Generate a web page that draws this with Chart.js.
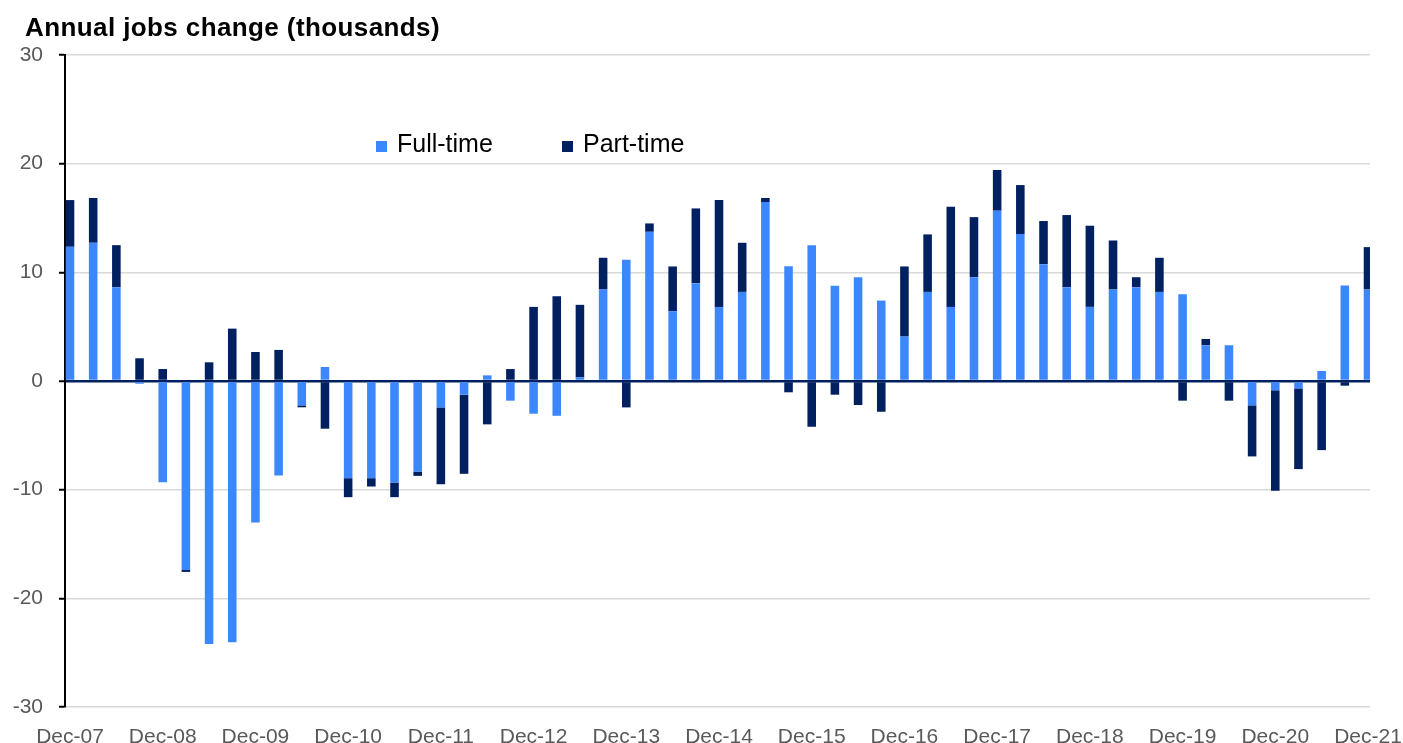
<!DOCTYPE html>
<html>
<head>
<meta charset="utf-8">
<script src="https://cdn.jsdelivr.net/npm/chart.js@4.4.1/dist/chart.umd.min.js"></script>
<style>
  html, body { margin: 0; padding: 0; background: #fff; }
  #wrap { position: relative; width: 1403px; height: 743px; overflow: hidden;
    font-family: 'Liberation Sans', Arial, sans-serif; }
  #title { position: absolute; left: 25px; top: 14px; font-size: 26px; line-height: 26px;
    font-weight: bold; letter-spacing: 0.4px; color: #000; white-space: nowrap; }
  #legend { position: absolute; left: 0; top: 0; width: 100%; pointer-events: none;
    font-size: 25px; line-height: 25px; color: #000; }
  .item { position: absolute; top: 131px; white-space: nowrap; }
  .swatch { display: inline-block; width: 11px; height: 11px; margin-right: 10px; vertical-align: baseline; }
</style>
</head>
<body>
<div id="wrap">
  <canvas id="jobsChart" width="1403" height="743"></canvas>
  <div id="title">Annual jobs change (thousands)</div>
  <div id="legend"></div>
</div>
<script>
// quarterly, Dec-07 .. Dec-21
const quarters = [
  'Dec-07', 'Mar-08', 'Jun-08', 'Sep-08',
  'Dec-08', 'Mar-09', 'Jun-09', 'Sep-09',
  'Dec-09', 'Mar-10', 'Jun-10', 'Sep-10',
  'Dec-10', 'Mar-11', 'Jun-11', 'Sep-11',
  'Dec-11', 'Mar-12', 'Jun-12', 'Sep-12',
  'Dec-12', 'Mar-13', 'Jun-13', 'Sep-13',
  'Dec-13', 'Mar-14', 'Jun-14', 'Sep-14',
  'Dec-14', 'Mar-15', 'Jun-15', 'Sep-15',
  'Dec-15', 'Mar-16', 'Jun-16', 'Sep-16',
  'Dec-16', 'Mar-17', 'Jun-17', 'Sep-17',
  'Dec-17', 'Mar-18', 'Jun-18', 'Sep-18',
  'Dec-18', 'Mar-19', 'Jun-19', 'Sep-19',
  'Dec-19', 'Mar-20', 'Jun-20', 'Sep-20',
  'Dec-20', 'Mar-21', 'Jun-21', 'Sep-21',
  'Dec-21'
];

const fullTime = [
  12.35, 12.72, 8.63, -0.25,
  -9.31, -17.39, -24.2, -24.05,
  -13.03, -8.69, -2.24, 1.29,
  -8.94, -8.94, -9.34, -8.33,
  -2.43, -1.26, 0.52, -1.81,
  -3.01, -3.2, 0.34, 8.42,
  11.15, 13.73, 6.42, 9.0,
  6.82, 8.2, 16.47, 10.57,
  12.5, 8.76, 9.55, 7.4,
  4.09, 8.2, 6.82, 9.55,
  15.67, 13.52, 10.75, 8.63,
  6.82, 8.42, 8.63, 8.2,
  7.99, 3.29, 3.29, -2.24,
  -0.86, -0.68, 0.92, 8.79,
  8.42
];

const partTime = [
  4.3, 4.12, 3.87, 2.09,
  1.1, -0.18, 1.72, 4.82,
  2.67, 2.86, -0.18, -4.39,
  -1.75, -0.77, -1.35, -0.4,
  -7.07, -7.28, -3.99, 1.1,
  6.82, 7.8, 6.67, 2.92,
  -2.43, 0.77, 4.12, 6.88,
  9.83, 4.52, 0.37, -1.04,
  -4.21, -1.26, -2.21, -2.83,
  6.45, 5.29, 9.22, 5.53,
  3.75, 4.51, 3.97, 6.64,
  7.47, 4.51, 0.92, 3.14,
  -1.81, 0.58, -1.81, -4.7,
  -9.25, -7.43, -6.36, -0.43,
  3.9
];

// labelled quarters on the x axis (every December)
const tickQuarters = [0, 4, 8, 12, 16, 20, 24, 28, 32, 36, 40, 44, 48, 52, 56];
const yTicks = [-30, -20, -10, 0, 10, 20, 30];

const FONT = "'Liberation Sans', Arial, sans-serif";
const BLUE = '#3d87fe';
const NAVY = '#002060';

const toPoints = arr => arr.map((v, i) => ({ x: i, y: v }));

const chart = new Chart(document.getElementById('jobsChart'), {
  type: 'bar',
  data: {
    datasets: [
      {
        label: 'Full-time',
        data: toPoints(fullTime),
        backgroundColor: BLUE,
        borderWidth: 0,
        categoryPercentage: 1,
        barPercentage: 0.37
      },
      {
        label: 'Part-time',
        data: toPoints(partTime),
        backgroundColor: NAVY,
        borderWidth: 0,
        categoryPercentage: 1,
        barPercentage: 0.37
      }
    ]
  },
  options: {
    responsive: false,
    animation: false,
    devicePixelRatio: 1,
    layout: {
      autoPadding: false,
      padding: { left: 0, right: 33, top: 55, bottom: 0 }
    },
    scales: {
      x: {
        type: 'linear',
        stacked: true,
        offset: false,
        min: -0.216,
        max: 56.086,
        grid: { display: false },
        border: { display: false },
        afterBuildTicks: axis => { axis.ticks = tickQuarters.map(v => ({ value: v })); },
        afterFit: axis => {
          axis.height = 36;
          // let the last label run off the edge like the original
          axis.paddingLeft = 0;
          axis.paddingRight = 0;
        },
        ticks: {
          autoSkip: false,
          maxRotation: 0,
          padding: 10,
          color: '#595959',
          font: { family: FONT, size: 21 },
          callback: v => quarters[v]
        }
      },
      y: {
        stacked: true,
        min: -30,
        max: 30,
        afterBuildTicks: axis => { axis.ticks = yTicks.map(v => ({ value: v })); },
        afterFit: axis => {
          axis.width = 65;
          axis.paddingTop = 0;
          axis.paddingBottom = 0;
        },
        border: { color: '#000', width: 2 },
        grid: {
          color: ctx => ctx.tick && ctx.tick.value === 0 ? NAVY : '#d9d9d9',
          lineWidth: ctx => ctx.tick && ctx.tick.value === 0 ? 2.5 : 1.5,
          drawTicks: true,
          tickLength: 6,
          tickColor: '#000',
          tickWidth: 2
        },
        ticks: {
          padding: 16,
          color: '#595959',
          font: { family: FONT, size: 21 }
        }
      }
    },
    plugins: {
      legend: { display: false },
      tooltip: { enabled: false },
      title: { display: false }
    }
  }
});

// legend drawn as html so it can sit inside the plot like the original
const legendLefts = [376, 562];
const legendEl = document.getElementById('legend');
chart.data.datasets.forEach((ds, i) => {
  const item = document.createElement('div');
  item.className = 'item';
  item.style.left = legendLefts[i] + 'px';
  const sw = document.createElement('span');
  sw.className = 'swatch';
  sw.style.background = ds.backgroundColor;
  item.appendChild(sw);
  item.appendChild(document.createTextNode(ds.label));
  legendEl.appendChild(item);
});
</script>
</body>
</html>
